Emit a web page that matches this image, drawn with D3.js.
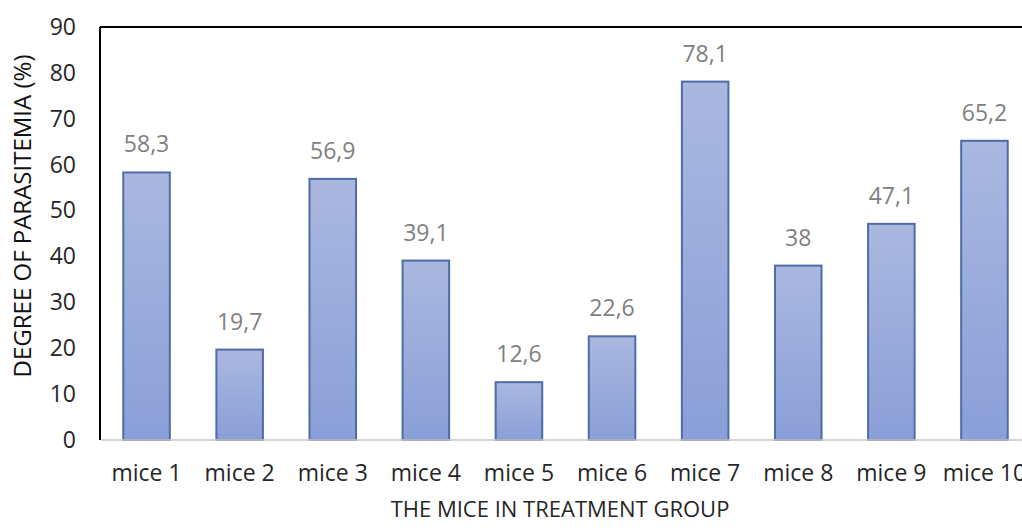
<!DOCTYPE html>
<html>
<head>
<meta charset="utf-8">
<script src="https://cdn.jsdelivr.net/npm/d3@7"></script>
<style>
  html, body { margin: 0; padding: 0; background: #fff; }
  svg { display: block; }
  text { font-family: "Open Sans", "Noto Sans", sans-serif; }
</style>
</head>
<body>
<svg id="chart" width="1022" height="528"></svg>
<script>
// Parasitemia per mouse in the treatment group
const categories = ["mice 1", "mice 2", "mice 3", "mice 4", "mice 5",
                    "mice 6", "mice 7", "mice 8", "mice 9", "mice 10"];
const values = [58.3, 19.7, 56.9, 39.1, 12.6, 22.6, 78.1, 38, 47.1, 65.2];
const yTicks = [0, 10, 20, 30, 40, 50, 60, 70, 80, 90];
const xTitle = "THE MICE IN TREATMENT GROUP";
const yTitle = "DEGREE OF PARASITEMIA (%)";

const svg = d3.select("#chart");
const plotLeft = 100, plotTop = 27, plotBottom = 440;
const plotRight = 1031; // plot runs past the right edge of the canvas

const x = d3.scaleBand().domain(categories).range([plotLeft, plotRight]).paddingInner(0.5).paddingOuter(0.25);
const y = d3.scaleLinear().domain([0, 90]).range([plotBottom, plotTop]);

// bar gradient
const defs = svg.append("defs");
const grad = defs.append("linearGradient").attr("id", "barGrad")
  .attr("x1", 0).attr("y1", 0).attr("x2", 0).attr("y2", 1);
grad.append("stop").attr("offset", "0%").attr("stop-color", "#aab8e0");
grad.append("stop").attr("offset", "100%").attr("stop-color", "#8a9fd8");

// frame: top and left lines
svg.append("line").attr("x1", plotLeft).attr("x2", 1022).attr("y1", plotTop).attr("y2", plotTop)
  .attr("stroke", "#000").attr("stroke-width", 2);
svg.append("line").attr("x1", plotLeft).attr("x2", plotLeft).attr("y1", plotTop).attr("y2", plotBottom)
  .attr("stroke", "#000").attr("stroke-width", 2);

// bars
svg.append("g").selectAll("rect").data(values).join("rect")
  .attr("x", (d, i) => x(categories[i]))
  .attr("y", d => y(d))
  .attr("width", x.bandwidth())
  .attr("height", d => y(0) - y(d))
  .attr("fill", "url(#barGrad)")
  .attr("stroke", "#4e6ca6")
  .attr("stroke-width", 2);

// baseline
svg.append("line").attr("x1", plotLeft + 1).attr("x2", 1022).attr("y1", plotBottom).attr("y2", plotBottom)
  .attr("stroke", "#c8c8c8").attr("stroke-width", 1.5);

// value labels
svg.append("g").selectAll("text").data(values).join("text")
  .attr("x", (d, i) => x(categories[i]) + x.bandwidth() / 2)
  .attr("y", d => y(d) - 20)
  .attr("text-anchor", "middle")
  .attr("font-size", 23)
  .attr("fill", "#808080")
  .text(d => String(d).replace(".", ","));

// y axis
const yAxis = d3.axisLeft(y).tickValues(yTicks).tickSize(0).tickPadding(24);
const yg = svg.append("g").attr("transform", `translate(${plotLeft},0)`).call(yAxis);
yg.select(".domain").remove();
yg.selectAll("text").attr("font-size", 23).attr("fill", "#262626")
  .style("font-family", "'Open Sans', sans-serif");

// x axis (the last label runs off the right edge, as the plot does)
const xAxis = d3.axisBottom(x).tickSize(0).tickPadding(25);
const xg = svg.append("g").attr("transform", `translate(0,${plotBottom})`).call(xAxis);
xg.select(".domain").remove();
xg.selectAll("text").attr("font-size", 23).attr("fill", "#262626")
  .style("font-family", "'Open Sans', sans-serif");

// axis titles
svg.append("text").attr("x", 560).attr("y", 517).attr("text-anchor", "middle")
  .attr("font-size", 22).attr("fill", "#262626").text(xTitle);
svg.append("text").attr("transform", "translate(31,216) rotate(-90)")
  .attr("text-anchor", "middle").attr("font-size", 24).attr("fill", "#111")
  .text(yTitle);
</script>
</body>
</html>
